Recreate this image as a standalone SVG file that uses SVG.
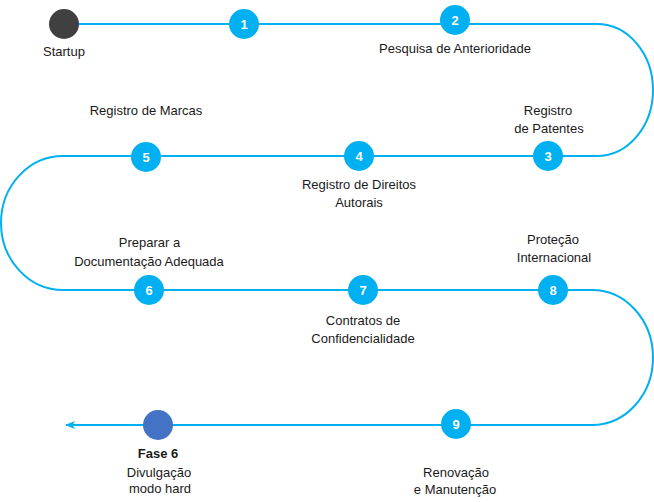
<svg xmlns="http://www.w3.org/2000/svg" width="654" height="502" viewBox="0 0 654 502">
<style>
.lbl{font-family:"Liberation Sans",Arial,sans-serif;font-size:13px;fill:#1a1a1a;text-anchor:middle}
.num{font-family:"Liberation Sans",Arial,sans-serif;font-size:13px;font-weight:bold;fill:#ffffff;text-anchor:middle}
.step{fill:#00B0F0}
.path{fill:none;stroke:#00B0F0;stroke-width:2}
</style>
<defs>
<marker id="arr" viewBox="0 0 10 8" refX="9" refY="4" markerWidth="10" markerHeight="8" markerUnits="userSpaceOnUse" orient="auto">
<path d="M0,0 L10,4 L0,8 L2.5,4 Z" fill="#00B0F0"/>
</marker>
</defs>
<g id="connectors">
<path class="path" d="M64,24 H597 A56 66 0 0 1 597 156 H63 A62 67 0 0 0 63 290 H592 A61 67.5 0 0 1 592 425 H66" marker-end="url(#arr)"/>
</g>
<g id="startup">
<circle cx="64" cy="24" r="15" fill="#404040"/>
<text class="lbl" x="64" y="56">Startup</text>
</g>
<g id="n1">
<circle class="step" cx="244" cy="24" r="15"/>
<text class="num" x="244" y="29">1</text>
</g>
<g id="n2">
<circle class="step" cx="455" cy="20" r="15"/>
<text class="num" x="455" y="25">2</text>
<text class="lbl" x="455" y="53">Pesquisa de Anterioridade</text>
</g>
<g id="n3">
<circle class="step" cx="548" cy="156" r="15"/>
<text class="num" x="548" y="161">3</text>
<text class="lbl" x="548" y="115">Registro</text>
<text class="lbl" x="549" y="133">de Patentes</text>
</g>
<g id="n4">
<circle class="step" cx="359" cy="156" r="15"/>
<text class="num" x="359" y="161">4</text>
<text class="lbl" x="359" y="189">Registro de Direitos</text>
<text class="lbl" x="359" y="207">Autorais</text>
</g>
<g id="n5">
<circle class="step" cx="146" cy="157" r="15"/>
<text class="num" x="146" y="162">5</text>
<text class="lbl" x="146" y="115">Registro de Marcas</text>
</g>
<g id="n6">
<circle class="step" cx="149" cy="290" r="15"/>
<text class="num" x="149" y="295">6</text>
<text class="lbl" x="149.5" y="247">Preparar a</text>
<text class="lbl" x="149" y="266">Documentação Adequada</text>
</g>
<g id="n7">
<circle class="step" cx="363" cy="290" r="15"/>
<text class="num" x="363" y="295">7</text>
<text class="lbl" x="363" y="325">Contratos de</text>
<text class="lbl" x="363" y="343">Confidencialidade</text>
</g>
<g id="n8">
<circle class="step" cx="553" cy="290" r="15"/>
<text class="num" x="553" y="295">8</text>
<text class="lbl" x="553" y="244">Proteção</text>
<text class="lbl" x="554" y="262">Internacional</text>
</g>
<g id="n9">
<circle class="step" cx="456" cy="424" r="15"/>
<text class="num" x="456" y="429">9</text>
<text class="lbl" x="456" y="477">Renovação</text>
<text class="lbl" x="455" y="494">e Manutenção</text>
</g>
<g id="fase6">
<circle cx="158" cy="425" r="15" fill="#4472C4"/>
<text class="lbl" x="158" y="458" font-weight="bold">Fase 6</text>
<text class="lbl" x="159" y="477">Divulgação</text>
<text class="lbl" x="160" y="493">modo hard</text>
</g>
</svg>
